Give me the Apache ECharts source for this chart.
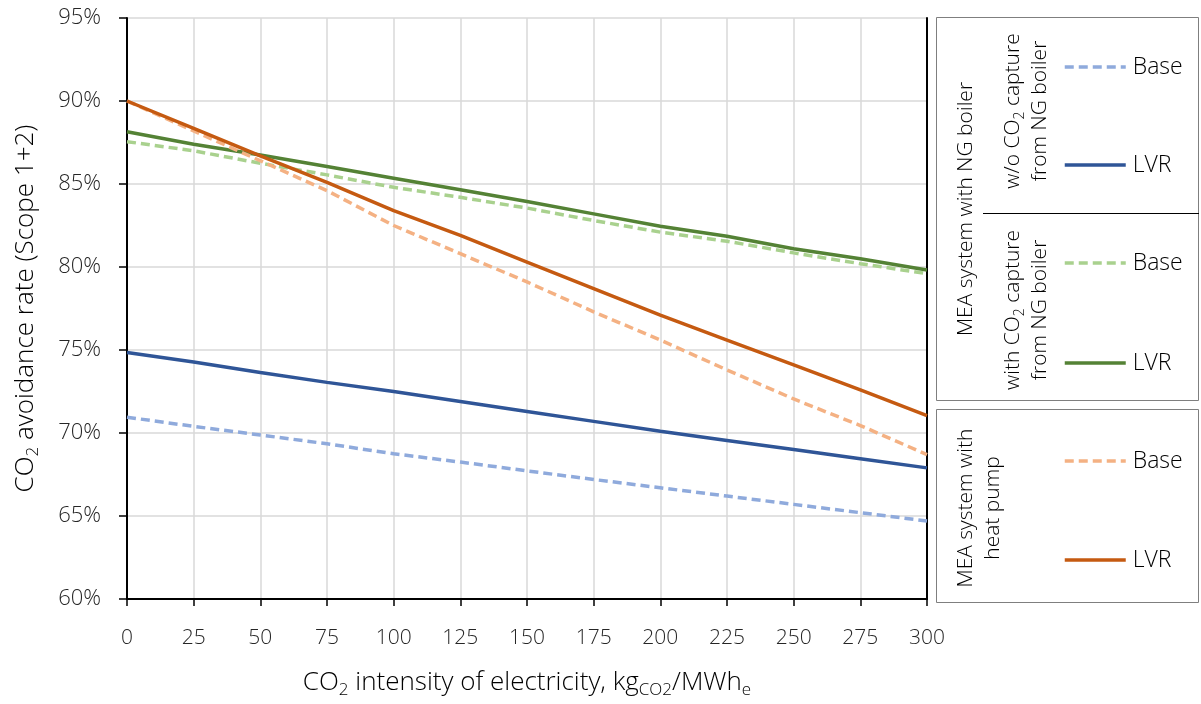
<!DOCTYPE html>
<html>
<head>
<meta charset="utf-8">
<script src="https://cdn.jsdelivr.net/npm/echarts@6/dist/echarts.min.js"></script>
<style>
  html, body { margin: 0; padding: 0; background: #fff; }
  #chart { width: 1201px; height: 704px; }
</style>
</head>
<body>
<div id="chart"></div>
<script>
const intensity = [0, 25, 50, 75, 100, 125, 150, 175, 200, 225, 250, 275, 300];

// avoidance rate in %
const ngNoCaptureBase = [70.95, 70.4, 69.88, 69.35, 68.75, 68.25, 67.72, 67.2, 66.7, 66.2, 65.7, 65.2, 64.7];
const ngNoCaptureLVR = [74.85, 74.28, 73.65, 73.05, 72.5, 71.9, 71.3, 70.7, 70.1, 69.55, 69.0, 68.45, 67.9];
const ngCaptureBase = [87.55, 87.0, 86.25, 85.55, 84.8, 84.2, 83.55, 82.8, 82.1, 81.55, 80.85, 80.2, 79.6];
const ngCaptureLVR = [88.15, 87.4, 86.75, 86.05, 85.35, 84.65, 83.95, 83.2, 82.45, 81.85, 81.1, 80.5, 79.82];
const heatPumpBase = [90.0, 88.2, 86.4, 84.6, 82.5, 80.8, 79.1, 77.3, 75.6, 73.8, 72.05, 70.45, 68.7];
const heatPumpLVR = [90.0, 88.35, 86.7, 85.1, 83.4, 81.9, 80.3, 78.7, 77.1, 75.6, 74.1, 72.6, 71.05];

const xTicks = { min: 0, max: 300, interval: 25 };
const yTicks = { min: 60, max: 95, interval: 5 };

const FONT = "'Open Sans', 'Noto Sans', sans-serif";
const pairs = (vals) => intensity.map((x, i) => [x, vals[i]]);

const chart = echarts.init(document.getElementById('chart'));

const mkSeries = (name, vals, color, dashed) => ({
  name: name,
  type: 'line',
  data: pairs(vals),
  symbol: 'none',
  yAxisIndex: 0,
  lineStyle: { color: color, width: 3.5, type: dashed ? [9, 5] : 'solid' },
  itemStyle: { color: color },
  emphasis: { disabled: true }
});

const mkLegend = (name, label, top) => ({
  data: [name],
  left: 1063,
  top: top,
  padding: 0,
  itemWidth: 61,
  itemHeight: 24,
  selectedMode: false,
  itemStyle: { opacity: 0 },
  lineStyle: { width: 3.5 },
  formatter: () => label,
  textStyle: { fontFamily: FONT, fontWeight: 300, fontSize: 23, color: '#000', lineHeight: 24, padding: [0, 0, 0, 2] }
});

const subRich = (size) => ({
  n: { fontFamily: FONT, fontWeight: 300, fontSize: size, color: '#000', lineHeight: size + 6 },
  s: { fontFamily: FONT, fontWeight: 300, fontSize: Math.round(size * 0.65), color: '#000', lineHeight: Math.round(size * 0.8), verticalAlign: 'bottom' }
});

const legendText = (text, x, y, size) => ({
  type: 'text',
  x: x,
  y: y,
  rotation: Math.PI / 2,
  style: {
    text: text,
    align: 'center',
    verticalAlign: 'middle',
    fontFamily: FONT,
    fontWeight: 300,
    fontSize: size,
    lineHeight: 27,
    fill: '#000',
    rich: {
      n: { fontFamily: FONT, fontWeight: 300, fontSize: size, lineHeight: 27, fill: '#000' },
      s: { fontFamily: FONT, fontWeight: 300, fontSize: 14, lineHeight: 16, verticalAlign: 'bottom', fill: '#000' }
    }
  }
});

const option = {
  animation: false,
  grid: { left: 127, right: 274, top: 18, bottom: 101, containLabel: false },
  xAxis: {
    type: 'value',
    min: xTicks.min,
    max: xTicks.max,
    interval: xTicks.interval,
    name: '{n|CO}{s|2}{n| intensity of electricity, kg}{s|CO2}{n|/MWh}{s|e}',
    nameLocation: 'middle',
    nameGap: 68,
    nameTextStyle: { rich: subRich(26) },
    axisLine: { lineStyle: { color: '#000', width: 2 } },
    axisTick: { show: true, length: 7, lineStyle: { color: '#000', width: 1.5 } },
    axisLabel: { fontFamily: FONT, fontWeight: 300, fontSize: 21, color: '#262626', margin: 29 },
    splitLine: { show: true, lineStyle: { color: '#d9d9d9', width: 1.5 } }
  },
  yAxis: [{
    type: 'value',
    min: yTicks.min,
    max: yTicks.max,
    interval: yTicks.interval,
    name: '{n|CO}{s|2}{n| avoidance rate (Scope 1+2)}',
    nameLocation: 'middle',
    nameGap: 85,
    nameTextStyle: { rich: subRich(26) },
    axisLine: { show: true, lineStyle: { color: '#000', width: 2 } },
    axisTick: { show: true, length: 8, lineStyle: { color: '#000', width: 1.5 } },
    axisLabel: { fontFamily: FONT, fontWeight: 300, fontSize: 22, color: '#262626', margin: 26, formatter: '{value}%' },
    splitLine: { show: true, lineStyle: { color: '#d9d9d9', width: 1.5 } }
  }, {
    type: 'value',
    position: 'right',
    min: yTicks.min,
    max: yTicks.max,
    interval: yTicks.interval,
    axisLine: { show: true, lineStyle: { color: '#000', width: 2 } },
    axisTick: { show: false },
    axisLabel: { show: false },
    splitLine: { show: false }
  }],
  legend: [
    mkLegend('noCapBase', 'Base', 55),
    mkLegend('noCapLVR', 'LVR', 153),
    mkLegend('capBase', 'Base', 251),
    mkLegend('capLVR', 'LVR', 351),
    mkLegend('hpBase', 'Base', 449),
    mkLegend('hpLVR', 'LVR', 548)
  ],
  series: [
    mkSeries('noCapBase', ngNoCaptureBase, '#8faadc', true),
    mkSeries('noCapLVR', ngNoCaptureLVR, '#2f5597', false),
    mkSeries('capBase', ngCaptureBase, '#a9d18e', true),
    mkSeries('capLVR', ngCaptureLVR, '#548235', false),
    mkSeries('hpBase', heatPumpBase, '#f4b183', true),
    mkSeries('hpLVR', heatPumpLVR, '#c55a11', false)
  ],
  graphic: [
    { type: 'rect', shape: { x: 936.5, y: 17.5, width: 262, height: 383 }, style: { fill: 'none', stroke: '#7f7f7f', lineWidth: 1 } },
    { type: 'line', shape: { x1: 983, y1: 213.5, x2: 1199, y2: 213.5 }, style: { stroke: '#000', lineWidth: 1 } },
    { type: 'rect', shape: { x: 936.5, y: 409.5, width: 262, height: 193 }, style: { fill: 'none', stroke: '#7f7f7f', lineWidth: 1 } },
    legendText('MEA system with NG boiler', 966, 209, 21),
    legendText('{n|w/o CO}{s|2}{n| capture}\n{n|from NG boiler}', 1027, 111, 21),
    legendText('{n|with CO}{s|2}{n| capture}\n{n|from NG boiler}', 1027, 310, 21),
    legendText('MEA system with\nheat pump', 980, 508, 21)
  ]
};

chart.setOption(option);
</script>
</body>
</html>
